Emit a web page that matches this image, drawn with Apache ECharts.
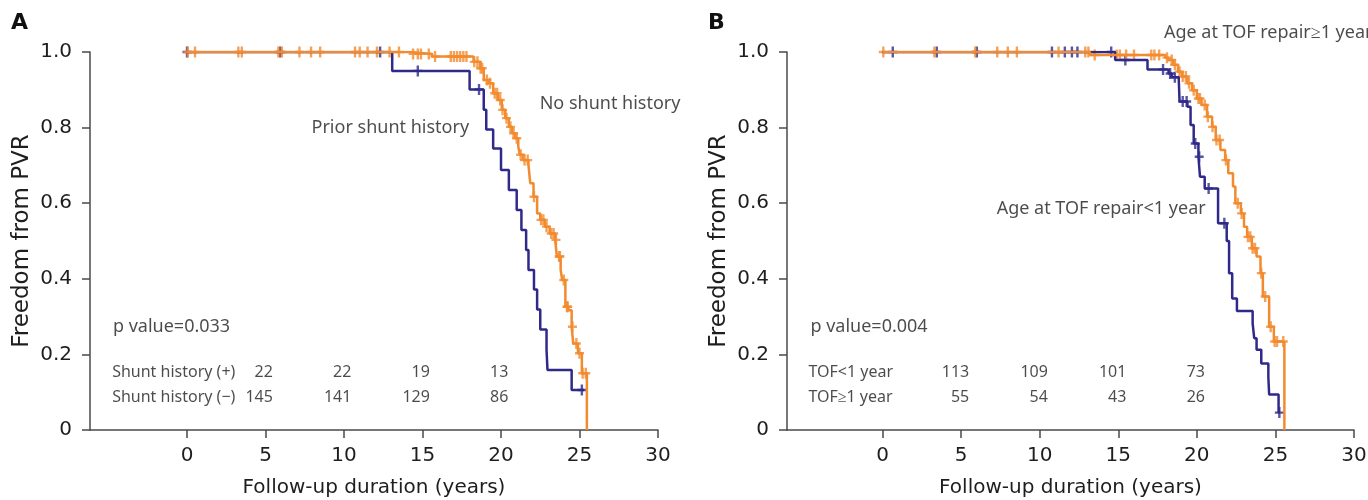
<!DOCTYPE html>
<html>
<head>
<meta charset="utf-8">
<title>Freedom from PVR</title>
<script src="https://cdn.jsdelivr.net/npm/echarts@6/dist/echarts.min.js"></script>
<style>
  html, body { margin: 0; padding: 0; background: #fff; }
  #chart { width: 1368px; height: 500px; }
</style>
</head>
<body>
<div id="chart"></div>
<script>
// ---- axes ----
const xTicks = [0, 5, 10, 15, 20, 25, 30]
const riskTimes = [5, 10, 15, 20]

// ---- panel A: shunt history ----
// [years, survival] points where the KM curve steps down
const shuntPosSteps = [
  [0, 1], [13.07, 0.950], [18.0, 0.901], [18.9, 0.847], [19.06, 0.795], [19.5, 0.745],
  [20.0, 0.688], [20.5, 0.635], [21.0, 0.582], [21.3, 0.529], [21.6, 0.476], [21.75, 0.423],
  [22.1, 0.372], [22.3, 0.319], [22.5, 0.266], [22.9, 0.212], [22.96, 0.159], [24.5, 0.106],
  [25.3, 0.106]
]
const shuntPosCensor = [0, 5.93, 12.3, 14.7, 18.6, 25.15]
const shuntNegSteps = [
  [0, 1], [14.2, 0.995], [15.6, 0.988], [18.25, 0.974], [18.67, 0.957], [18.9, 0.926],
  [19.2, 0.917], [19.5, 0.891], [19.8, 0.873], [20.05, 0.847], [20.27, 0.825], [20.5, 0.802],
  [20.7, 0.785], [20.9, 0.772], [21.1, 0.750], [21.2, 0.728], [21.4, 0.714], [21.75, 0.701],
  [21.86, 0.653], [22.07, 0.617], [22.3, 0.573], [22.5, 0.556], [22.8, 0.538], [23.1, 0.520],
  [23.45, 0.503], [23.56, 0.459], [23.8, 0.423], [23.9, 0.397], [24.1, 0.326], [24.3, 0.317],
  [24.5, 0.273], [24.6, 0.229], [24.9, 0.203], [25.15, 0.150], [25.47, 0.150], [25.47, 0]
]
const shuntNegCensor = [
  0.05, 0.51, 3.27, 3.49, 5.82, 6.04, 7.16, 7.9, 8.48, 10.7, 11.0, 11.5, 12.1, 12.9, 13.5,
  14.4, 14.7, 14.9, 15.4, 15.8, 16.8, 17.0, 17.2, 17.4, 17.6, 17.8, 18.3, 18.5, 18.7, 18.8,
  19.1, 19.3, 19.6, 19.75, 19.95, 20.1, 20.35, 20.6, 20.8, 21.0, 21.25, 21.5, 21.7, 22.1,
  22.55, 22.7, 22.9, 23.2, 23.35, 23.5, 23.7, 23.75, 24.0, 24.2, 24.25, 24.55, 24.8, 25.0,
  25.2, 25.4
]
const shuntPosRisk = [22, 22, 19, 13]
const shuntNegRisk = [145, 141, 129, 86]

// ---- panel B: age at TOF repair ----
const tofLtSteps = [
  [0, 1], [14.8, 0.979], [16.86, 0.954], [18.2, 0.943], [18.4, 0.933], [18.85, 0.926],
  [18.9, 0.869], [19.4, 0.855], [19.6, 0.807], [19.8, 0.758], [20.1, 0.723], [20.2, 0.670],
  [20.5, 0.639], [21.35, 0.547], [21.9, 0.500], [22.05, 0.415], [22.25, 0.348], [22.55, 0.315],
  [23.55, 0.282], [23.65, 0.243], [23.8, 0.212], [24.1, 0.176], [24.55, 0.140], [24.6, 0.094],
  [25.2, 0.046], [25.3, 0.046]
]
const tofLtCensor = [
  0.65, 3.45, 6.0, 10.78, 11.6, 12.05, 12.4, 14.55, 15.45, 17.85, 18.3, 18.6, 19.1, 19.35,
  19.9, 20.15, 20.75, 21.75, 25.25
]
const tofGeSteps = [
  [0, 1], [13.2, 0.992], [18.0, 0.985], [18.2, 0.979], [18.5, 0.966], [18.8, 0.948],
  [19.06, 0.935], [19.4, 0.917], [19.7, 0.899], [20.0, 0.877], [20.3, 0.860], [20.65, 0.829],
  [20.97, 0.802], [21.2, 0.767], [21.5, 0.741], [21.8, 0.714], [22.0, 0.679], [22.3, 0.644],
  [22.45, 0.600], [22.8, 0.573], [23.0, 0.538], [23.2, 0.511], [23.5, 0.481], [23.8, 0.459],
  [24.05, 0.415], [24.2, 0.353], [24.6, 0.273], [24.9, 0.234], [25.57, 0.234], [25.57, 0]
]
const tofGeCensor = [
  0.05, 3.3, 5.9, 7.3, 7.97, 8.55, 11.2, 12.9, 13.1, 13.5, 14.9, 15.1, 15.5, 16.0, 17.1,
  17.3, 17.6, 18.1, 18.4, 18.6, 18.9, 19.1, 19.3, 19.5, 19.8, 20.1, 20.2, 20.5, 20.7, 21.0,
  21.25, 21.45, 21.85, 22.6, 22.85, 23.25, 23.4, 23.55, 23.7, 24.1, 24.35, 24.7, 24.95, 25.1,
  25.5
]
const tofLtRisk = [113, 109, 101, 73]
const tofGeRisk = [55, 54, 43, 26]

const NAVY = '#2f2a8a'
const ORANGE = '#f28a2e'
const TEXT = '#1e1e1e'
const AXIS = '#4a4a4a'
const plus = 'path://M-1.2,-5.5H1.2V-1.2H4.5V1.2H1.2V5.5H-1.2V1.2H-4.5V-1.2H-1.2Z'

// survival level of a step curve at time t
const levelAt = (steps, t) => {
  let y = steps[0][1]
  for (const s of steps) {
    if (s[0] <= t) y = s[1]
  }
  return y
}

const stepSeries = (idx, steps, color) => ({
  type: 'line', step: 'end', xAxisIndex: idx, yAxisIndex: idx,
  data: steps, showSymbol: false, silent: true,
  lineStyle: { color, width: 2.5 }
})

const censorSeries = (idx, steps, times, color) => ({
  type: 'scatter', xAxisIndex: idx, yAxisIndex: idx, silent: true,
  symbol: plus, symbolSize: [9, 11],
  itemStyle: { color },
  data: times.map(t => [t, levelAt(steps, t)])
})

// text placed in data coords; side 'right' = starts at point, 'left' = ends at point
const textSeries = (idx, items) => ({
  type: 'scatter', xAxisIndex: idx, yAxisIndex: idx, silent: true, clip: false,
  symbolSize: 1, itemStyle: { color: 'rgba(0,0,0,0)' },
  data: items.map(it => ({
    value: [it.x, it.y],
    label: {
      show: true, formatter: it.text, position: it.side || 'right', distance: 0,
      fontFamily: 'Noto Sans', fontSize: it.size || 16, color: TEXT
    }
  }))
})

const riskItems = (values, y, dx) =>
  values.map((v, i) => ({ x: riskTimes[i] + dx, y, text: String(v), side: 'left' }))

const makeX = (idx, min) => ({
  type: 'value', gridIndex: idx, min, max: 30,
  name: 'Follow-up duration (years)', nameLocation: 'middle', nameGap: 48,
  nameTextStyle: { fontFamily: 'DejaVu Sans', fontSize: 20, color: TEXT },
  axisLine: { onZero: false, lineStyle: { color: AXIS, width: 1.5 } },
  axisTick: { customValues: xTicks, length: 8, lineStyle: { color: AXIS, width: 1.5 } },
  axisLabel: {
    customValues: xTicks, margin: 16,
    fontFamily: 'DejaVu Sans', fontSize: 20, color: TEXT
  },
  splitLine: { show: false }
})

const makeY = (idx) => ({
  type: 'value', gridIndex: idx, min: 0, max: 1, interval: 0.2,
  name: 'Freedom from PVR', nameLocation: 'middle', nameGap: 56,
  nameTextStyle: { fontFamily: 'DejaVu Sans', fontSize: 23, color: TEXT },
  axisLine: { show: true, onZero: false, lineStyle: { color: AXIS, width: 1.5 } },
  axisTick: { show: true, length: 8, lineStyle: { color: AXIS, width: 1.5 } },
  axisLabel: {
    margin: 18, fontFamily: 'DejaVu Sans', fontSize: 20, color: TEXT,
    formatter: v => (v === 0 ? '0' : v.toFixed(1))
  },
  splitLine: { show: false }
})

const chart = echarts.init(document.getElementById('chart'), null, { renderer: 'canvas' })

chart.setOption({
  animation: false,
  backgroundColor: '#fff',
  grid: [
    { left: 90, width: 568, top: 52, height: 378, outerBoundsMode: 'none' },
    { left: 787, width: 567, top: 52, height: 378, outerBoundsMode: 'none' }
  ],
  xAxis: [makeX(0, -6.18), makeX(1, -6.08)],
  yAxis: [makeY(0), makeY(1)],
  graphic: [
    { type: 'text', left: 11, top: 12, style: { text: 'A', font: 'bold 22px "DejaVu Sans"', fill: '#111' } },
    { type: 'text', left: 708, top: 12, style: { text: 'B', font: 'bold 22px "DejaVu Sans"', fill: '#111' } }
  ],
  series: [
    // panel A
    stepSeries(0, shuntPosSteps, NAVY),
    stepSeries(0, shuntNegSteps, ORANGE),
    censorSeries(0, shuntPosSteps, shuntPosCensor, NAVY),
    censorSeries(0, shuntNegSteps, shuntNegCensor, ORANGE),
    textSeries(0, [
      { x: 7.9, y: 0.799, text: 'Prior shunt history', size: 18 },
      { x: 22.43, y: 0.862, text: 'No shunt history', size: 18 },
      { x: -4.75, y: 0.272, text: 'p value=0.033', size: 18 },
      { x: -4.8, y: 0.153, text: 'Shunt history (+)' },
      { x: -4.8, y: 0.087, text: 'Shunt history (\u2212)' },
      ...riskItems(shuntPosRisk, 0.153, 0.5),
      ...riskItems(shuntNegRisk, 0.087, 0.5)
    ]),
    // panel B
    stepSeries(1, tofLtSteps, NAVY),
    stepSeries(1, tofGeSteps, ORANGE),
    censorSeries(1, tofLtSteps, tofLtCensor, NAVY),
    censorSeries(1, tofGeSteps, tofGeCensor, ORANGE),
    textSeries(1, [
      { x: 17.87, y: 1.050, text: 'Age at TOF repair\u22651 year', size: 18 },
      { x: 7.23, y: 0.585, text: 'Age at TOF repair<1 year', size: 18 },
      { x: -4.62, y: 0.272, text: 'p value=0.004', size: 18 },
      { x: -4.75, y: 0.153, text: 'TOF<1 year' },
      { x: -4.75, y: 0.087, text: 'TOF\u22651 year' },
      ...riskItems(tofLtRisk, 0.153, 0.55),
      ...riskItems(tofGeRisk, 0.087, 0.55)
    ])
  ]
})
</script>
</body>
</html>
